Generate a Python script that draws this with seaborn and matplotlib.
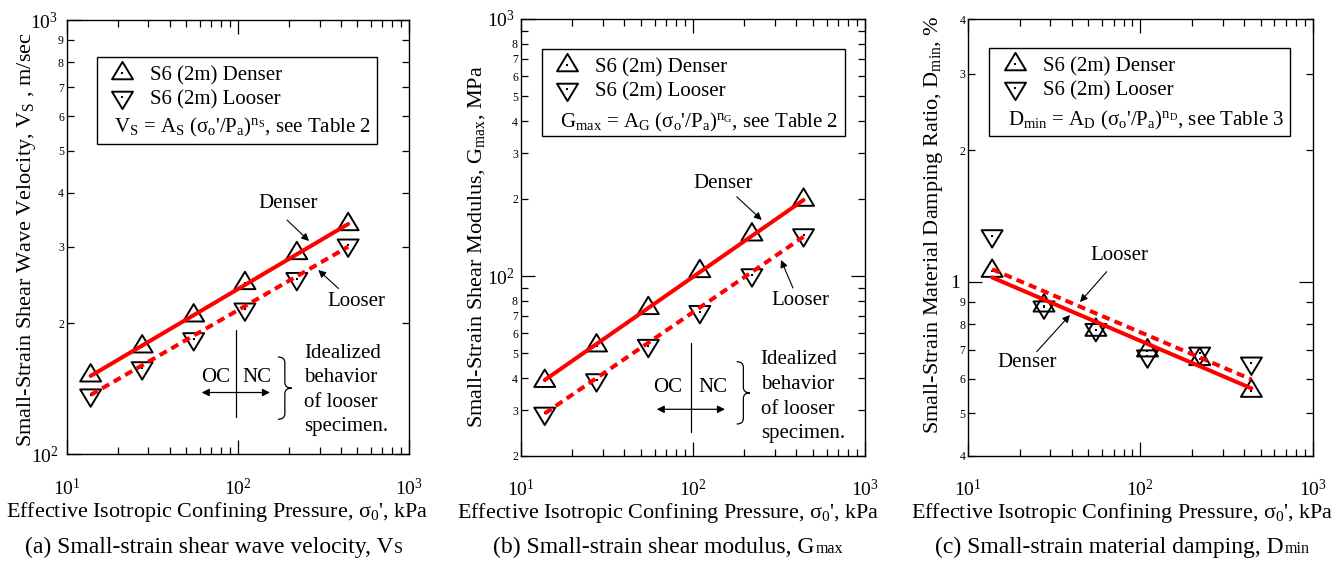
import numpy as np
import matplotlib
matplotlib.use("Agg")
import matplotlib.pyplot as plt
import seaborn as sns
from matplotlib.path import Path
from matplotlib.patches import PathPatch, Rectangle
from matplotlib.lines import Line2D
from matplotlib.legend_handler import HandlerTuple
from matplotlib.ticker import LogLocator, FuncFormatter, NullFormatter

# ---------------- data ----------------
pressure = [13.8, 27.6, 55.2, 110.0, 221.0, 441.0]          # kPa

vs_denser = [151.5, 176.7, 208.3, 247.3, 289.9, 338.1]      # m/s
vs_looser = [136.6, 157.8, 184.1, 215.5, 253.4, 302.6]

gmax_denser = [39.0, 53.6, 74.9, 104.3, 144.8, 197.6]       # MPa
gmax_looser = [29.2, 39.4, 53.6, 72.6, 100.9, 144.4]

dmin_denser = [1.059, 0.882, 0.776, 0.696, 0.665, 0.5625]   # %
dmin_looser = [1.274, 0.875, 0.777, 0.676, 0.686, 0.651]

fit_pressure = [13.8, 441.0]
vs_fit_denser = [151.3, 338.8]
vs_fit_looser = [136.8, 300.3]
gmax_fit_denser = [39.4, 197.6]
gmax_fit_looser = [29.2, 142.2]
dmin_fit_denser = [1.024, 0.5706]
dmin_fit_looser = [1.069, 0.598]

series_labels = ["S6 (2m) Denser", "S6 (2m) Looser"]
xlabel = "Effective Isotropic Confining Pressure, σ$_\\mathregular{0}$', kPa"
ylabels = ["Small-Strain Shear Wave Velocity, V$_\\mathregular{S}$ , m/sec",
           "Small-Strain Shear Modulus, G$_\\mathregular{max}$, MPa",
           "Small-Strain Material Damping Ratio, D$_\\mathregular{min}$, %"]
formulas = ["V$_\\mathregular{S}$ = A$_\\mathregular{S}$ (σ$_\\mathregular{o}$'/P$_\\mathregular{a}$)$^{\\mathregular{n}_\\mathregular{S}}$, see Table 2",
            "G$_\\mathregular{max}$ = A$_\\mathregular{G}$ (σ$_\\mathregular{o}$'/P$_\\mathregular{a}$)$^{\\mathregular{n}_\\mathregular{G}}$, see Table 2",
            "D$_\\mathregular{min}$ = A$_\\mathregular{D}$ (σ$_\\mathregular{o}$'/P$_\\mathregular{a}$)$^{\\mathregular{n}_\\mathregular{D}}$, see Table 3"]
captions = [("(a) Small-strain shear wave velocity, V", "S"),
            ("(b) Small-strain shear modulus, G", "max"),
            ("(c) Small-strain material damping, D", "min")]
idealized_text = "Idealized\nbehavior\nof looser\nspecimen."

# ---------------- style ----------------
W, H = 1344, 573
sns.set_theme(style="ticks")
plt.rcParams["font.family"] = ["Liberation Serif", "DejaVu Serif"]
plt.rcParams["mathtext.fontset"] = "custom"
plt.rcParams["mathtext.rm"] = "Liberation Serif"
plt.rcParams["mathtext.it"] = "Liberation Serif:italic"
plt.rcParams["mathtext.bf"] = "Liberation Serif:bold"
plt.rcParams["axes.linewidth"] = 1.0
plt.rcParams["axes.edgecolor"] = "black"
plt.rcParams["text.color"] = "black"
plt.rcParams["axes.labelcolor"] = "black"
plt.rcParams["xtick.color"] = "black"
plt.rcParams["ytick.color"] = "black"

fig = plt.figure(figsize=(W / 100, H / 100), dpi=100)


def F(x, y):
    return (x / W, 1 - y / H)


def new_axes(l, t, r, b):
    return fig.add_axes([l / W, 1 - b / H, (r - l) / W, (b - t) / H])


TH = 0.83
CODES = [Path.MOVETO, Path.LINETO, Path.LINETO, Path.CLOSEPOLY]
TRI_UP = Path([(0, 2 * TH / 3), (-0.5, -TH / 3), (0.5, -TH / 3), (0, 2 * TH / 3)], CODES)
TRI_DN = Path([(0, -2 * TH / 3), (-0.5, TH / 3), (0.5, TH / 3), (0, -2 * TH / 3)], CODES)
MS = 16.7
MEW = 1.4
LW_FIT = 2.9
DOTTED = (0, (2.0, 1.3))


def fmt_major(v, pos):
    e = int(round(np.log10(v)))
    if e == 0:
        return "1"
    return r"$\mathregular{10^{%d}}$" % e


def make_minor_fmt(skip=()):
    def fmt_minor(v, pos):
        d = int(round(v / 10 ** np.floor(np.log10(v) + 1e-9)))
        return "" if d in skip else "%d" % d
    return FuncFormatter(fmt_minor)


def draw_panel(ax, y_den, y_loo, f_den, f_loo, ylim, ylabel, ylab_xy, xlab_x,
               ymaj_pad=6, skip=()):
    ax.set_xscale("log")
    ax.set_yscale("log")
    for y, mk in ((y_den, TRI_UP), (y_loo, TRI_DN)):
        sns.scatterplot(x=pressure, y=y, marker=mk, s=MS ** 2, facecolor="none",
                        edgecolor="black", linewidth=MEW, ax=ax, zorder=2, legend=False)
        sns.scatterplot(x=pressure, y=y, marker="s", s=3.5, color="black",
                        edgecolor="black", linewidth=0, ax=ax, zorder=2, legend=False)
    sns.lineplot(x=fit_pressure, y=f_den, color="red", linewidth=LW_FIT, ax=ax,
                 zorder=3, legend=False)
    sns.lineplot(x=fit_pressure, y=f_loo, color="red", linewidth=LW_FIT,
                 linestyle=DOTTED, ax=ax, zorder=3, legend=False)
    ax.set_xlim(10, 1000)
    ax.set_ylim(*ylim)
    for axis, lab_minor in ((ax.xaxis, False), (ax.yaxis, True)):
        axis.set_major_locator(LogLocator(10, numticks=12))
        axis.set_minor_locator(LogLocator(10, subs=np.arange(2, 10) * 1.0, numticks=12))
        axis.set_major_formatter(FuncFormatter(fmt_major))
        axis.set_minor_formatter(make_minor_fmt(skip) if lab_minor else NullFormatter())
    ax.tick_params(which="both", direction="in", top=True, right=True, colors="black")
    ax.tick_params(which="major", length=10, width=0.9)
    ax.tick_params(which="minor", length=5, width=0.9)
    ax.tick_params(axis="x", which="major", labelsize=14, pad=17)
    ax.tick_params(axis="y", which="major", labelsize=14, pad=ymaj_pad)
    ax.tick_params(axis="y", which="minor", labelsize=8.5, pad=2)
    ax.set_xlabel(xlabel, fontsize=15.9, labelpad=0.5)
    ax.xaxis.label.set_x(xlab_x)
    ax.set_ylabel(ylabel, fontsize=16)
    ax.yaxis.set_label_coords(*ylab_xy)
    for s in ax.spines.values():
        s.set_linewidth(1.0)
        s.set_color("black")


def legend_box(ax, anchor, box, formula_xy, formula):
    h_dot = Line2D([], [], ls="none", marker="s", ms=1.9, mfc="black", mec="black", mew=0)
    h_up = (Line2D([], [], ls="none", marker=TRI_UP, ms=MS, mfc="none", mec="black", mew=MEW), h_dot)
    h_dn = (Line2D([], [], ls="none", marker=TRI_DN, ms=MS, mfc="none", mec="black", mew=MEW), h_dot)
    ax.legend([h_up, h_dn], series_labels, handler_map={tuple: HandlerTuple(ndivide=1, pad=0)},
              loc="upper left", bbox_to_anchor=F(*anchor), bbox_transform=fig.transFigure,
              frameon=False, fontsize=15, handlelength=1.3, handletextpad=0.7,
              labelspacing=0.2, borderpad=0, borderaxespad=0)
    l, t, r, b = box
    ax.add_patch(Rectangle(F(l, b), (r - l) / W, (b - t) / H, transform=fig.transFigure,
                           fill=False, lw=1.0, ec="black", clip_on=False, zorder=5))
    ax.text(*F(*formula_xy), formula, transform=fig.transFigure, fontsize=15,
            ha="left", va="baseline")


def arrow(ax, tail, head, style="-|>"):
    ax.annotate("", xy=F(*head), xytext=F(*tail), xycoords="figure fraction",
                textcoords="figure fraction",
                arrowprops=dict(arrowstyle=style, color="black", lw=0.8,
                                mutation_scale=11, shrinkA=0, shrinkB=0))


def label(ax, xy, s, size=15, ha="center", va="center", **kw):
    ax.text(*F(*xy), s, transform=fig.transFigure, fontsize=size, ha=ha, va=va, **kw)


def brace(ax, x0, x1, y0, y1):
    ym = (y0 + y1) / 2
    xm = (x0 + x1) / 2
    k = (y1 - y0) * 0.09
    pts = [(x0, y0), (xm, y0), (xm, y0 + k), (xm, ym - k), (xm, ym), (x1, ym),
           (xm, ym), (xm, ym + k), (xm, y1 - k), (xm, y1), (x0, y1)]
    codes = [Path.MOVETO, Path.CURVE3, Path.CURVE3, Path.LINETO, Path.CURVE3, Path.CURVE3,
             Path.CURVE3, Path.CURVE3, Path.LINETO, Path.CURVE3, Path.CURVE3]
    verts = [F(x, y) for x, y in pts]
    ax.add_patch(PathPatch(Path(verts, codes), transform=fig.transFigure, fill=False,
                           lw=0.9, ec="black", clip_on=False))


def oc_nc(ax, xv, yv0, yv1, ya, xa0, xa1, oc_xy, nc_xy, br, txt_xy):
    ax.plot([F(xv, yv0)[0], F(xv, yv1)[0]], [F(xv, yv0)[1], F(xv, yv1)[1]],
            transform=fig.transFigure, color="black", lw=0.9, clip_on=False)
    ax.annotate("", xy=F(xa1, ya), xytext=F(xa0, ya), xycoords="figure fraction",
                textcoords="figure fraction",
                arrowprops=dict(arrowstyle="<|-|>", color="black", lw=0.9,
                                mutation_scale=11, shrinkA=0, shrinkB=0))
    label(ax, oc_xy, "OC")
    label(ax, nc_xy, "NC")
    brace(ax, *br)
    label(ax, txt_xy, idealized_text, ha="left", va="top", linespacing=1.4)


# ---------------- panel (a) ----------------
ax1 = new_axes(66.7, 20, 409, 454)
draw_panel(ax1, vs_denser, vs_looser, vs_fit_denser, vs_fit_looser, (100, 1000), ylabels[0],
           (-0.0838, 0.495), 0.4405)
legend_box(ax1, (108.2, 66), (96.7, 57.3, 376.7, 144.3), (114, 132), formulas[0])
label(ax1, (288, 204), "Denser")
arrow(ax1, (287, 220), (309, 241))
label(ax1, (356.7, 301.7), "Looser")
arrow(ax1, (338.5, 288.5), (318.3, 270))
oc_nc(ax1, 236, 330, 417, 392.5, 201.7, 270, (215.8, 377.5), (257, 377.5),
      (278, 291.7, 357, 419.3), (304.3, 343.5))

# ---------------- panel (b) ----------------
ax2 = new_axes(520.7, 19, 864.7, 455.7)
draw_panel(ax2, gmax_denser, gmax_looser, gmax_fit_denser, gmax_fit_looser, (20, 1000), ylabels[1],
           (-0.099, 0.4786), 0.428, ymaj_pad=4, skip=(9,))
legend_box(ax2, (553.2, 58), (541.7, 49, 845, 136), (560, 127.7), formulas[1])
label(ax2, (723, 183), "Denser")
arrow(ax2, (736.7, 196.7), (761.7, 220))
label(ax2, (800, 300.7), "Looser")
arrow(ax2, (793, 288), (781, 260))
oc_nc(ax2, 690.7, 343, 431.7, 409.3, 656.7, 725, (668, 388), (712.7, 388),
      (736.7, 750, 361.7, 424), (760.7, 350.5))

# ---------------- panel (c) ----------------
ax3 = new_axes(968, 19, 1312.7, 455.7)
draw_panel(ax3, dmin_denser, dmin_looser, dmin_fit_denser, dmin_fit_looser, (0.4, 4), ylabels[2],
           (-0.0676, 0.53), 0.448)
legend_box(ax3, (1001.5, 57), (989.3, 48.3, 1290, 135.7), (1008.3, 125), formulas[2])
label(ax3, (1119, 255.5), "Looser")
arrow(ax3, (1106.7, 271.7), (1080, 302))
label(ax3, (1027.5, 362.5), "Denser")
arrow(ax3, (1036.7, 351.7), (1070, 315))

# ---------------- captions ----------------
for (main, small), xl in zip(captions, (25, 493.3, 935)):
    t = fig.text(*F(xl, 553), main, fontsize=17, ha="left", va="baseline")
    ax1.annotate(small, xy=(1, 0), xycoords=t, xytext=(0.5, 3.7),
                 textcoords="offset points", fontsize=11.5, ha="left", va="baseline",
                 annotation_clip=False)

fig.savefig("out.png", dpi=100)
